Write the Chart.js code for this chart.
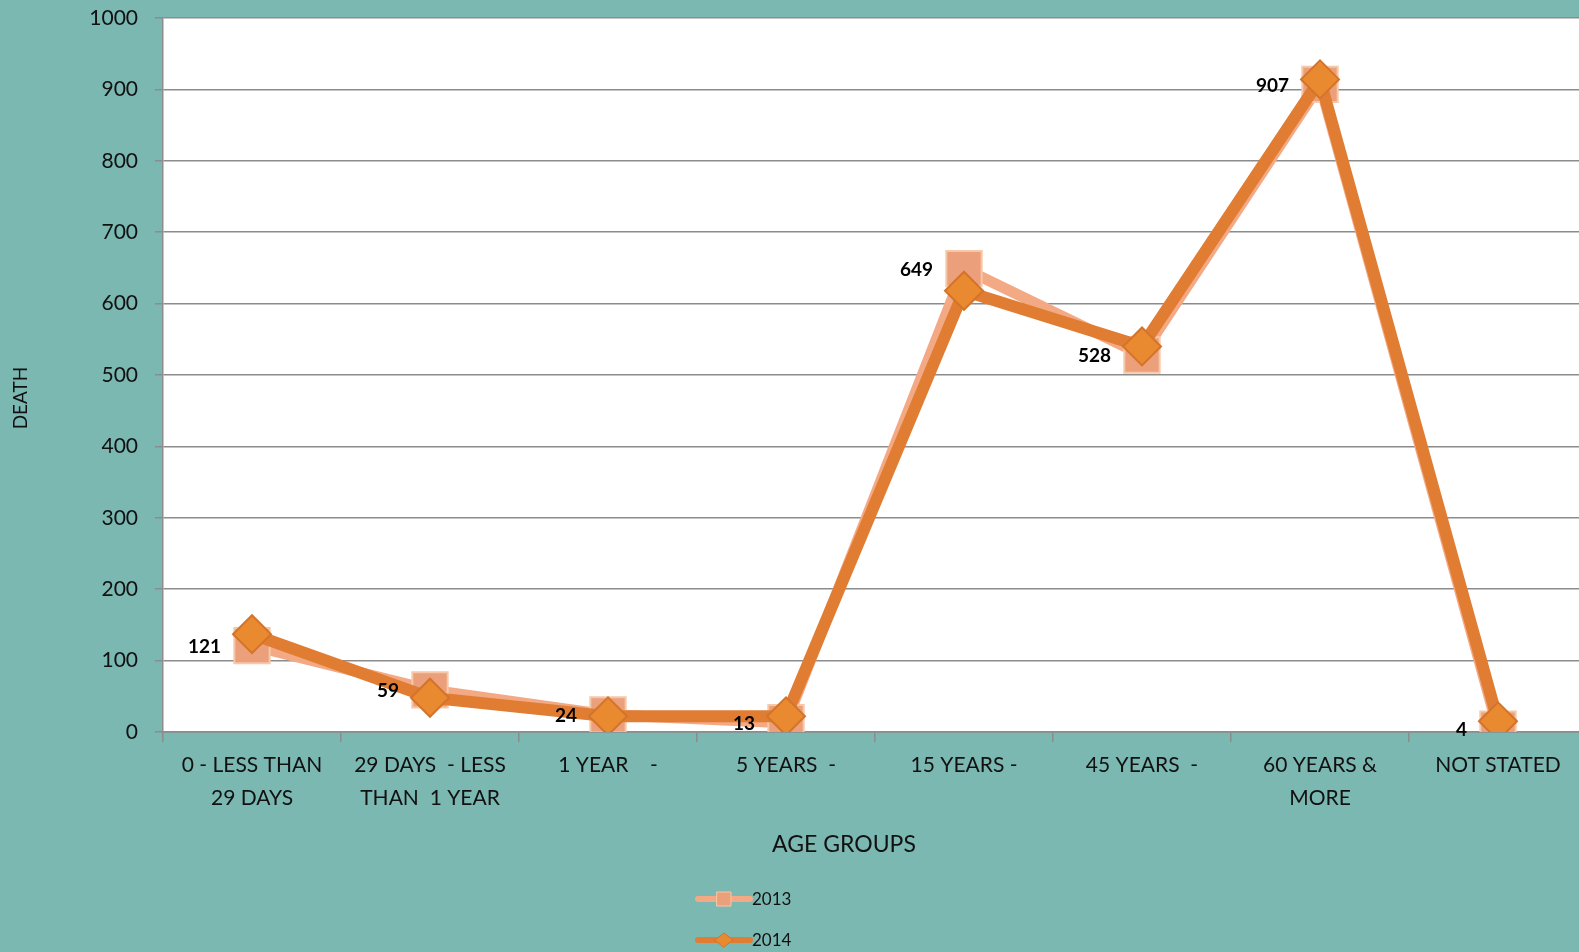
<!DOCTYPE html>
<html>
<head>
<meta charset="utf-8">
<script src="https://cdn.jsdelivr.net/npm/chart.js@4"></script>
<style>
  html, body { margin: 0; padding: 0; background: #7bb8b2; overflow: hidden; }
  /* plot runs slightly past the right edge of the window, as in the original */
  #wrap { width: 1587px; height: 952px; }
</style>
</head>
<body>
<div id="wrap"><canvas id="chart"></canvas></div>
<script>
const ageGroups = [
  ['0 - LESS THAN', '29 DAYS'],
  ['29 DAYS  - LESS', 'THAN  1 YEAR'],
  '1 YEAR    -',
  '5 YEARS  -',
  '15 YEARS -',
  '45 YEARS  -',
  ['60 YEARS &', 'MORE'],
  'NOT STATED'
];
const deaths2013 = [121, 59, 24, 13, 649, 528, 907, 4];
const deaths2014 = [137, 48, 22, 22, 618, 540, 914, 15];
const seriesNames = ['2013', '2014'];

const FONT = 'Lato, "Open Sans", sans-serif';

// labels only for the 2013 series, left of the point
const valueLabels = {
  id: 'valueLabels',
  afterDatasetsDraw(chart) {
    const ctx = chart.ctx;
    const meta = chart.getDatasetMeta(0);
    ctx.save();
    ctx.font = 'bold 19px ' + FONT;
    ctx.fillStyle = '#000';
    ctx.textAlign = 'right';
    ctx.textBaseline = 'middle';
    meta.data.forEach((pt, i) => {
      ctx.fillText(String(deaths2013[i]), pt.x - 31, pt.y + 1);
    });
    ctx.restore();
  }
};

// axis titles sit where the original put them, not centred on the clipped plot
const axisTitles = {
  id: 'axisTitles',
  afterDraw(chart) {
    const ctx = chart.ctx;
    ctx.save();
    ctx.fillStyle = '#111';
    ctx.textAlign = 'center';
    ctx.textBaseline = 'middle';
    ctx.font = '23px ' + FONT;
    ctx.fillText('AGE GROUPS', 844, 845);
    ctx.translate(21, 398);
    ctx.rotate(-Math.PI / 2);
    ctx.font = '19px ' + FONT;
    ctx.fillText('DEATH', 0, 0);
    ctx.restore();
  }
};

// legend drawn as line + marker, stacked vertically under the axis title
const lineLegend = {
  id: 'lineLegend',
  afterDraw(chart) {
    const ctx = chart.ctx;
    const x0 = 698, x1 = 750, rows = [899, 940];
    chart.data.datasets.forEach((ds, i) => {
      const y = rows[i];
      ctx.save();
      ctx.strokeStyle = ds.borderColor;
      ctx.lineWidth = 6;
      ctx.lineCap = 'round';
      ctx.beginPath();
      ctx.moveTo(x0, y);
      ctx.lineTo(x1, y);
      ctx.stroke();
      ctx.fillStyle = ds.pointBackgroundColor;
      ctx.strokeStyle = ds.pointBorderColor;
      ctx.lineWidth = 1;
      const cx = (x0 + x1) / 2;
      ctx.beginPath();
      if (i === 0) {
        ctx.rect(cx - 7, y - 7, 14, 14);
      } else {
        ctx.moveTo(cx - 9, y); ctx.lineTo(cx, y - 7);
        ctx.lineTo(cx + 9, y); ctx.lineTo(cx, y + 7);
        ctx.closePath();
      }
      ctx.fill();
      ctx.stroke();
      ctx.fillStyle = '#111';
      ctx.font = '17px ' + FONT;
      ctx.textAlign = 'left';
      ctx.textBaseline = 'middle';
      ctx.fillText(ds.label, x1 + 2, y + 1);
      ctx.restore();
    });
  }
};

const plotBg = {
  id: 'plotBg',
  beforeDraw(chart) {
    const { ctx, chartArea: a } = chart;
    ctx.save();
    ctx.fillStyle = '#ffffff';
    ctx.fillRect(a.left, a.top, a.right - a.left + 20, a.bottom - a.top);
    ctx.restore();
  }
};

new Chart(document.getElementById('chart'), {
  type: 'line',
  data: {
    labels: ageGroups,
    datasets: [
      {
        label: seriesNames[0],
        data: deaths2013,
        order: 1,
        borderColor: '#f4a985',
        borderWidth: 11,
        pointStyle: 'rect',
        pointRadius: 25,
        pointHoverRadius: 25,
        pointBackgroundColor: '#eba07b',
        pointBorderColor: '#f7c8a8',
        pointBorderWidth: 2,
        tension: 0
      },
      {
        label: seriesNames[1],
        data: deaths2014,
        order: 0,
        borderColor: '#e07d33',
        borderWidth: 12,
        pointStyle: 'rectRot',
        pointRadius: 19,
        pointHoverRadius: 19,
        pointBackgroundColor: '#e98a31',
        pointBorderColor: '#d4732a',
        pointBorderWidth: 2,
        tension: 0
      }
    ]
  },
  options: {
    responsive: true,
    maintainAspectRatio: false,
    animation: false,
    layout: { autoPadding: false, padding: { top: 18, right: 0, bottom: 95, left: 0 } },
    plugins: {
      legend: { display: false },
      tooltip: { enabled: false }
    },
    scales: {
      x: {
        offset: true,
        afterFit(scale) {
          scale.height = 125;
          scale.paddingLeft = 0;
          scale.paddingRight = 0;
        },
        grid: {
          offset: true,
          drawOnChartArea: false,
          drawTicks: true,
          tickLength: 10,
          color: '#8c8c8c',
          lineWidth: 1.5
        },
        border: { color: '#8c8c8c', width: 1.5 },
        ticks: {
          color: '#111',
          font: { family: FONT, size: 21, lineHeight: 1.55 },
          padding: 7,
          maxRotation: 0,
          autoSkip: false
        }
      },
      y: {
        min: 0,
        max: 1000,
        afterFit(scale) {
          scale.width = 163;
          scale.paddingTop = 0;
          scale.paddingBottom = 0;
        },
        grid: {
          color: '#8c8c8c',
          lineWidth: 1.5,
          tickLength: 8
        },
        border: { color: '#8c8c8c', width: 1.5 },
        ticks: {
          stepSize: 100,
          color: '#111',
          font: { family: FONT, size: 21 },
          padding: 17,
          callback: (v) => String(v)
        }
      }
    }
  },
  plugins: [plotBg, valueLabels, axisTitles, lineLegend]
});
</script>
</body>
</html>
